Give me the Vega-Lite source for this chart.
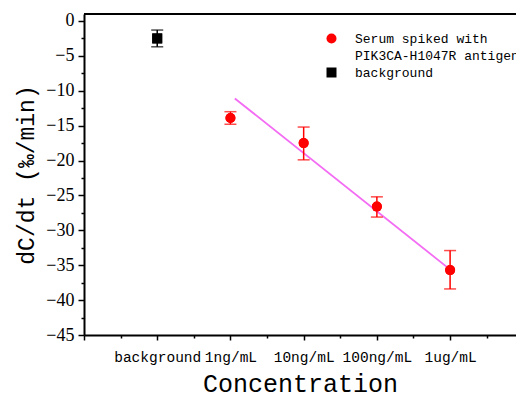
{
  "$schema": "https://vega.github.io/schema/vega-lite/v6.json",
  "autosize": {"type": "none"},
  "padding": {"left": 84, "top": 14, "right": 0, "bottom": 64},
  "width": 432,
  "height": 321,
  "background": "white",
  "config": {
    "view": {"stroke": null},
    "axis": {
      "domainColor": "black",
      "domainWidth": 2,
      "tickColor": "black",
      "tickWidth": 1.5,
      "grid": false,
      "labelColor": "black",
      "titleColor": "black",
      "titleFontWeight": "normal",
      "labelOverlap": false,
      "labelFlush": false
    }
  },
  "datasets": {
    "pts": [
      {"label": "background", "conc": 1, "value": -2.5, "low": -3.7, "high": -1.3, "series": "background"},
      {"label": "1ng/mL", "conc": 2, "value": -13.9, "low": -14.8, "high": -13.0, "series": "Serum spiked with"},
      {"label": "10ng/mL", "conc": 3, "value": -17.5, "low": -19.9, "high": -15.2, "series": "Serum spiked with"},
      {"label": "100ng/mL", "conc": 4, "value": -26.6, "low": -28.1, "high": -25.2, "series": "Serum spiked with"},
      {"label": "1ug/mL", "conc": 5, "value": -35.7, "low": -38.4, "high": -32.9, "series": "Serum spiked with"}
    ],
    "fit": [
      {"conc": 2.06, "value": -11.1},
      {"conc": 4.95, "value": -35.2}
    ],
    "frame": [{"value": 1}]
  },
  "layer": [
    {
      "data": {"name": "pts"},
      "mark": {"type": "point", "filled": true, "opacity": 1, "size": 100},
      "encoding": {
        "x": {
          "field": "conc", "type": "quantitative",
          "scale": {"domain": [0, 5.9], "nice": false, "zero": false},
          "axis": {
            "title": "Concentration",
            "titleFont": "Liberation Mono",
            "titleFontSize": 25,
            "titlePadding": 8,
            "values": [0, 0.5, 1, 1.5, 2, 2.5, 3, 3.5, 4, 4.5, 5, 5.5],
            "tickCount": 12,
            "labelExpr": "datum.value == 1 ? 'background' : datum.value == 2 ? '1ng/mL' : datum.value == 3 ? '10ng/mL' : datum.value == 4 ? '100ng/mL' : datum.value == 5 ? '1ug/mL' : ''",
            "labelFont": "Liberation Mono",
            "labelFontSize": 14.5,
            "labelPadding": 10,
            "labelOverlap": false,
            "tickSize": {"condition": {"test": "(datum.value * 2) % 2 == 0", "value": 5}, "value": 3}
          }
        },
        "y": {
          "field": "value", "type": "quantitative",
          "scale": {"domain": [-45, 1], "nice": false, "zero": false},
          "axis": {
            "title": "dC/dt (‰/min)",
            "titleFont": "Liberation Mono",
            "titleFontSize": 23,
            "titlePadding": 7,
            "values": [-45, -42.5, -40, -37.5, -35, -32.5, -30, -27.5, -25, -22.5, -20, -17.5, -15, -12.5, -10, -7.5, -5, -2.5, 0],
            "labelExpr": "(datum.value * 2) % 10 == 0 ? format(datum.value, 'd') : ''",
            "labelFont": "Liberation Serif",
            "labelFontSize": 18,
            "labelPadding": 4,
            "labelOverlap": false,
            "labelSeparation": 0,
            "tickCount": 19,
            "tickSize": {"condition": {"test": "(datum.value * 2) % 10 == 0", "value": 6}, "value": 3}
          }
        },
        "color": {
          "field": "series", "type": "nominal",
          "scale": {"domain": ["Serum spiked with", "PIK3CA-H1047R antigen", "background"], "range": ["#ff0000", "transparent", "#000000"]},
          "legend": {
            "title": null,
            "orient": "none",
            "legendX": 241,
            "legendY": 18,
            "padding": 0,
            "labelFont": "Liberation Mono",
            "labelFontSize": 13,
            "labelColor": "black",
            "labelOffset": 17,
            "labelLimit": 400,
            "rowPadding": 3,
            "symbolSize": 100,
            "symbolStrokeWidth": 0
          }
        },
        "shape": {
          "field": "series", "type": "nominal",
          "scale": {"domain": ["Serum spiked with", "PIK3CA-H1047R antigen", "background"], "range": ["circle", "circle", "square"]}
        }
      }
    },
    {
      "data": {"name": "frame"},
      "mark": {"type": "rule", "color": "black", "strokeWidth": 2},
      "encoding": {"y": {"field": "value", "type": "quantitative"}}
    },
    {
      "data": {"name": "fit"},
      "mark": {"type": "line", "color": "#f36cf3", "strokeWidth": 1.8},
      "encoding": {
        "x": {"field": "conc", "type": "quantitative"},
        "y": {"field": "value", "type": "quantitative"}
      }
    },
    {
      "data": {"name": "pts"},
      "mark": {"type": "rule", "strokeWidth": 1.5},
      "encoding": {
        "x": {"field": "conc", "type": "quantitative"},
        "y": {"field": "low", "type": "quantitative"},
        "y2": {"field": "high"},
        "color": {"field": "series", "type": "nominal"}
      }
    },
    {
      "data": {"name": "pts"},
      "mark": {"type": "tick", "orient": "horizontal", "size": 12, "thickness": 1.5},
      "encoding": {
        "x": {"field": "conc", "type": "quantitative"},
        "y": {"field": "low", "type": "quantitative"},
        "color": {"field": "series", "type": "nominal"}
      }
    },
    {
      "data": {"name": "pts"},
      "mark": {"type": "tick", "orient": "horizontal", "size": 12, "thickness": 1.5},
      "encoding": {
        "x": {"field": "conc", "type": "quantitative"},
        "y": {"field": "high", "type": "quantitative"},
        "color": {"field": "series", "type": "nominal"}
      }
    },
    {
      "data": {"name": "pts"},
      "mark": {"type": "point", "filled": true, "opacity": 1, "size": 100},
      "encoding": {
        "x": {"field": "conc", "type": "quantitative"},
        "y": {"field": "value", "type": "quantitative"},
        "color": {"field": "series", "type": "nominal"},
        "shape": {"field": "series", "type": "nominal"}
      }
    }
  ]
}
